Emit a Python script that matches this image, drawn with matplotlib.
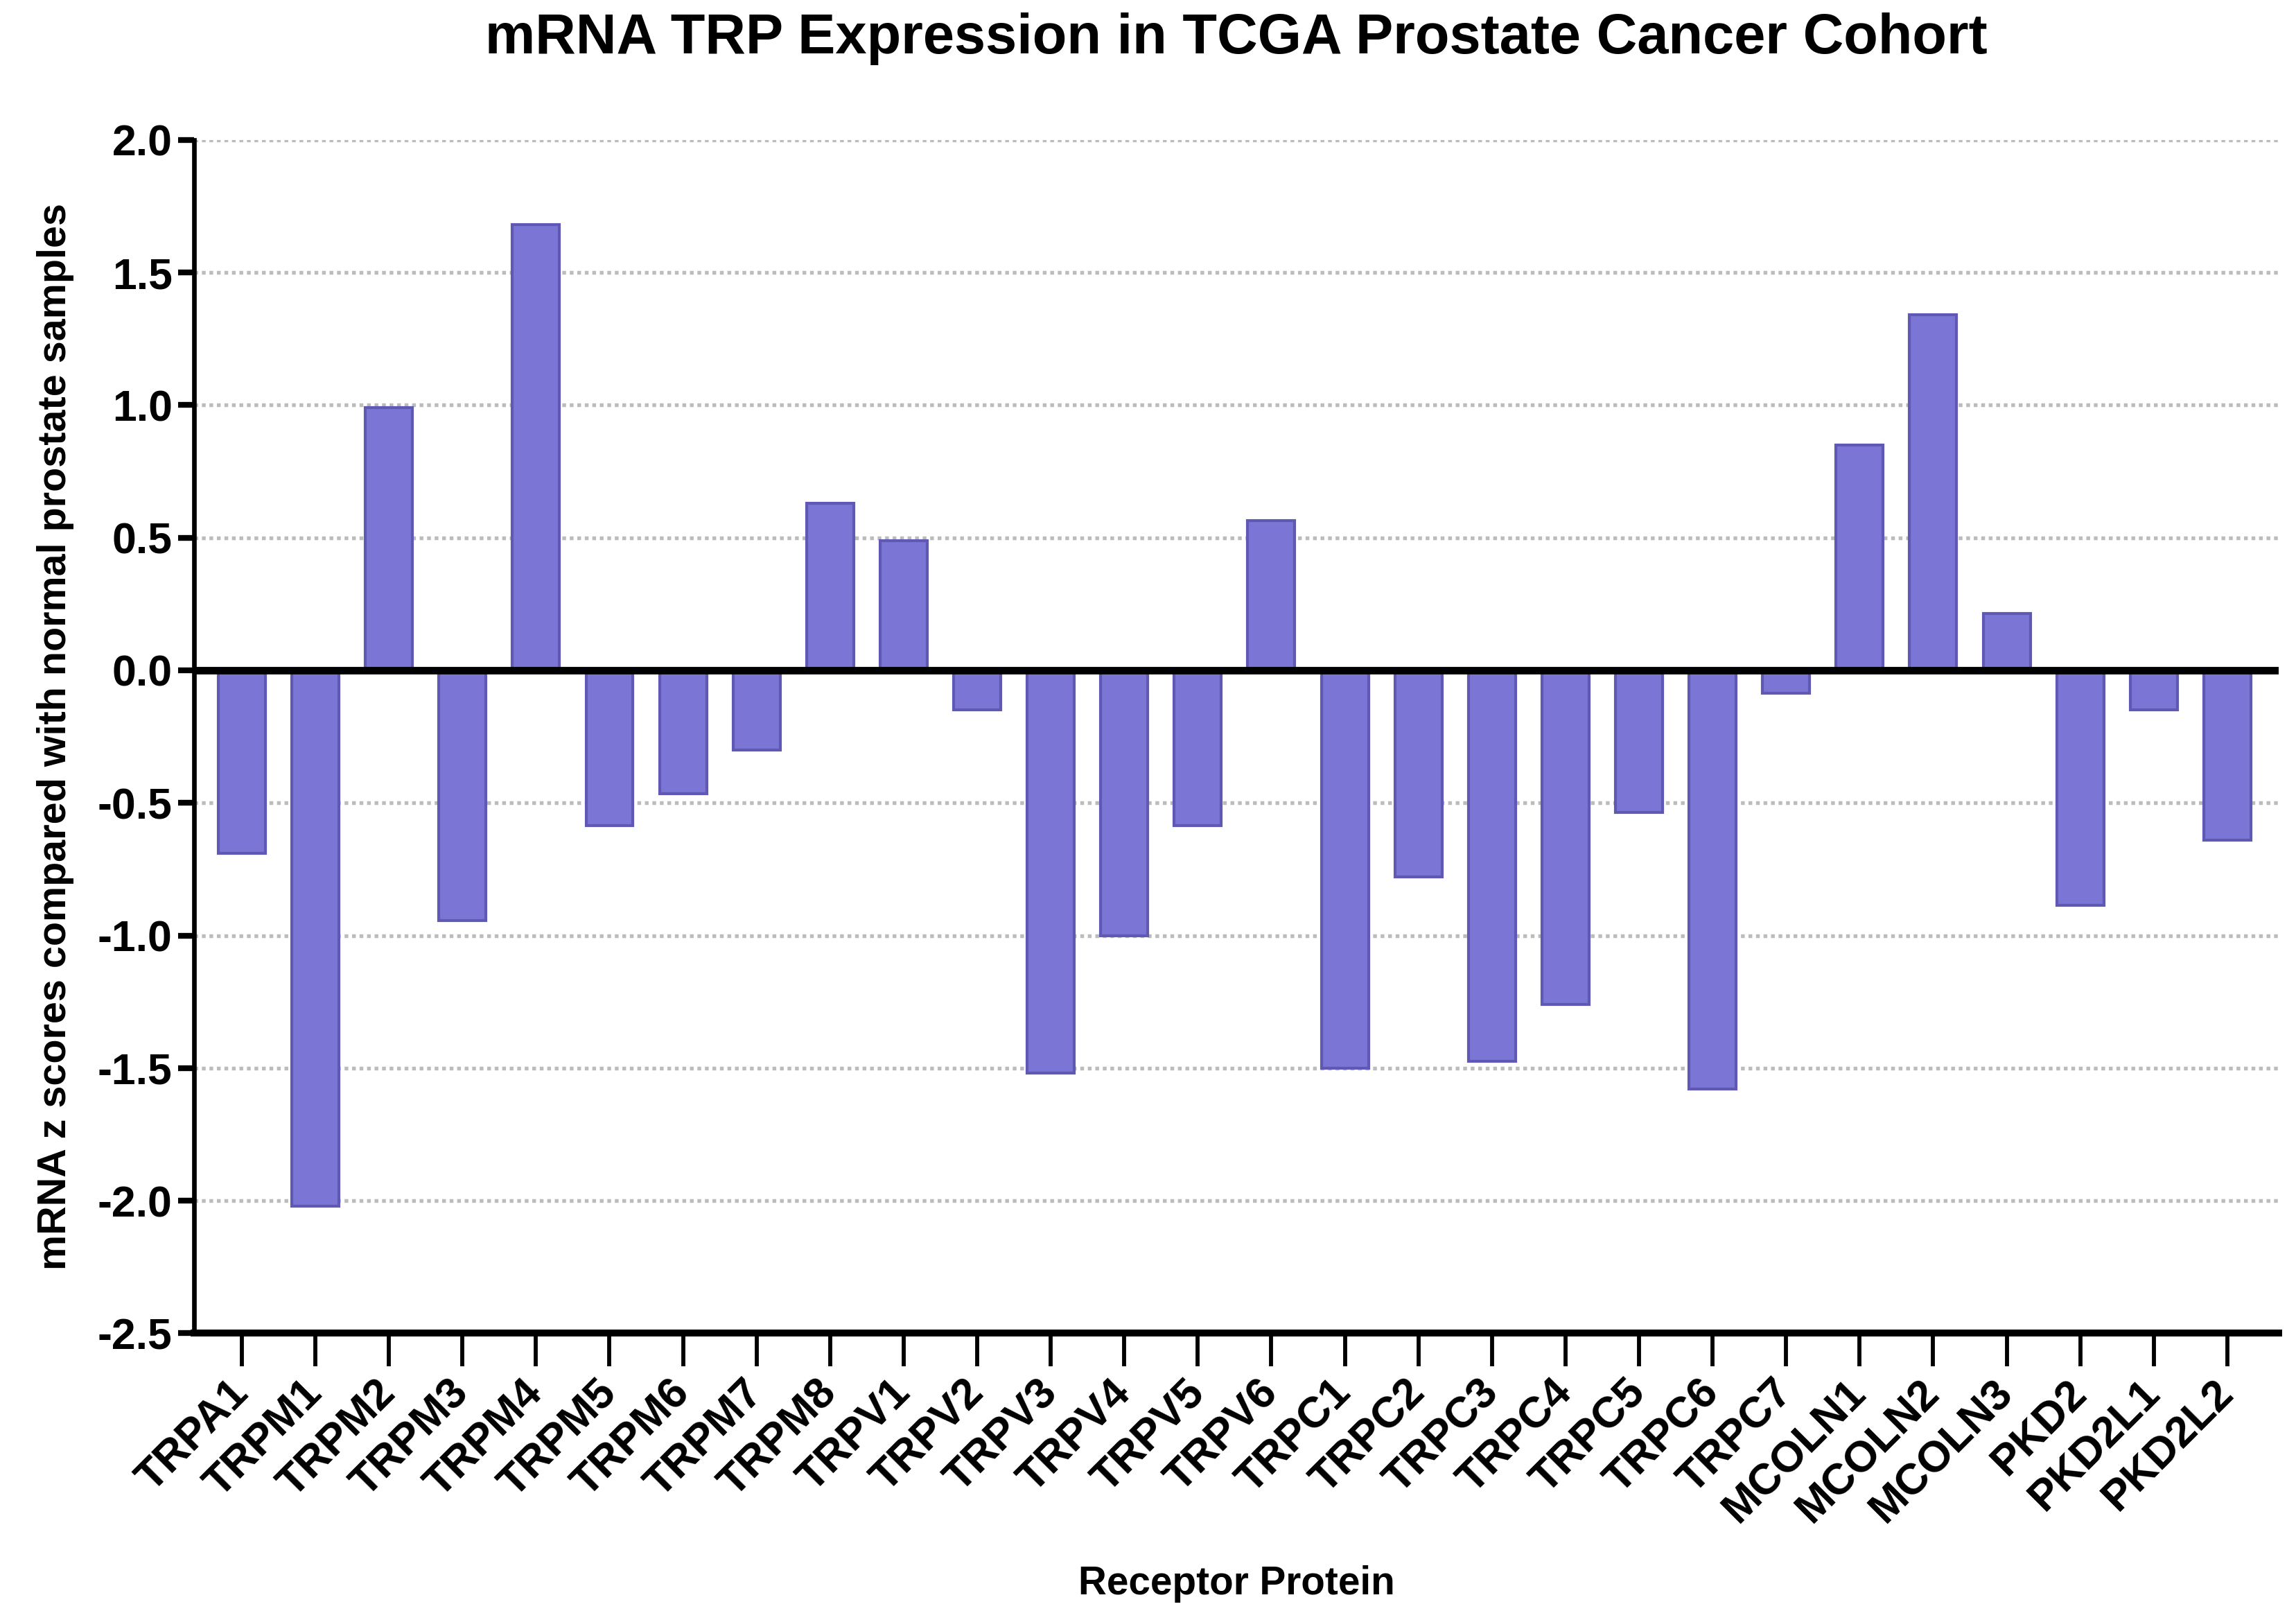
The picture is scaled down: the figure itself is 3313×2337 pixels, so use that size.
import matplotlib
matplotlib.use("Agg")
import matplotlib.pyplot as plt

# Receptor names and z scores
receptors = ["TRPA1", "TRPM1", "TRPM2", "TRPM3", "TRPM4", "TRPM5", "TRPM6", "TRPM7",
             "TRPM8", "TRPV1", "TRPV2", "TRPV3", "TRPV4", "TRPV5", "TRPV6", "TRPC1",
             "TRPC2", "TRPC3", "TRPC4", "TRPC5", "TRPC6", "TRPC7", "MCOLN1", "MCOLN2",
             "MCOLN3", "PKD2", "PKD2L1", "PKD2L2"]
z_scores = [-0.69, -2.02, 0.99, -0.945, 1.68, -0.585, -0.465, -0.30,
            0.63, 0.49, -0.15, -1.52, -1.00, -0.585, 0.565, -1.50,
            -0.78, -1.475, -1.26, -0.535, -1.58, -0.085, 0.85, 1.34,
            0.215, -0.885, -0.15, -0.64]
y_ticks = [-2.5, -2.0, -1.5, -1.0, -0.5, 0.0, 0.5, 1.0, 1.5, 2.0]

plt.rcParams['font.family'] = ['Liberation Sans', 'DejaVu Sans']
plt.rcParams['font.weight'] = 'bold'

fig = plt.figure(figsize=(3313 / 300, 2337 / 300), dpi=300)
ax = fig.add_axes([0.0845, 0.177, 0.908, 0.7366])

x = list(range(len(receptors)))
ax.bar(x, z_scores, width=0.64, color='#7b75d5', edgecolor='#5f59b3',
       linewidth=1.0, zorder=3)

# dotted grid, solid zero line
for t in y_ticks:
    if t in (0.0, -2.5):
        continue
    ax.axhline(t, color='#bcbcbc', linewidth=1.3, linestyle=(0, (1.0, 1.0)), zorder=1)
ax.axhline(0, color='black', linewidth=2.6, zorder=4)

ax.set_ylim(-2.5, 2.0)
ax.set_xlim(-0.65, len(receptors) - 0.3)
ax.set_yticks(y_ticks)
ax.set_yticklabels([f"{t:.1f}" for t in y_ticks], fontsize=15, fontweight='bold')
ax.set_xticks(x)
ax.set_xticklabels(receptors, rotation=45, ha='right', va='center',
                   rotation_mode='anchor', fontsize=15, fontweight='bold')

for side in ['top', 'right']:
    ax.spines[side].set_visible(False)
ax.spines['left'].set_linewidth(1.6)
ax.spines['bottom'].set_linewidth(2.4)
ax.tick_params(axis='y', length=5.5, width=2.0, pad=2)
ax.tick_params(axis='x', length=11.5, width=1.4, pad=7)

ax.set_ylabel("mRNA z scores compared with normal prostate samples",
              fontsize=13.8, fontweight='bold', labelpad=8)
ax.set_xlabel("Receptor Protein", fontsize=13.6, fontweight='bold', labelpad=12)
ax.set_title("mRNA TRP Expression in TCGA Prostate Cancer Cohort",
             fontsize=19.5, fontweight='bold', pad=30)

fig.savefig("out.png", dpi=300)
